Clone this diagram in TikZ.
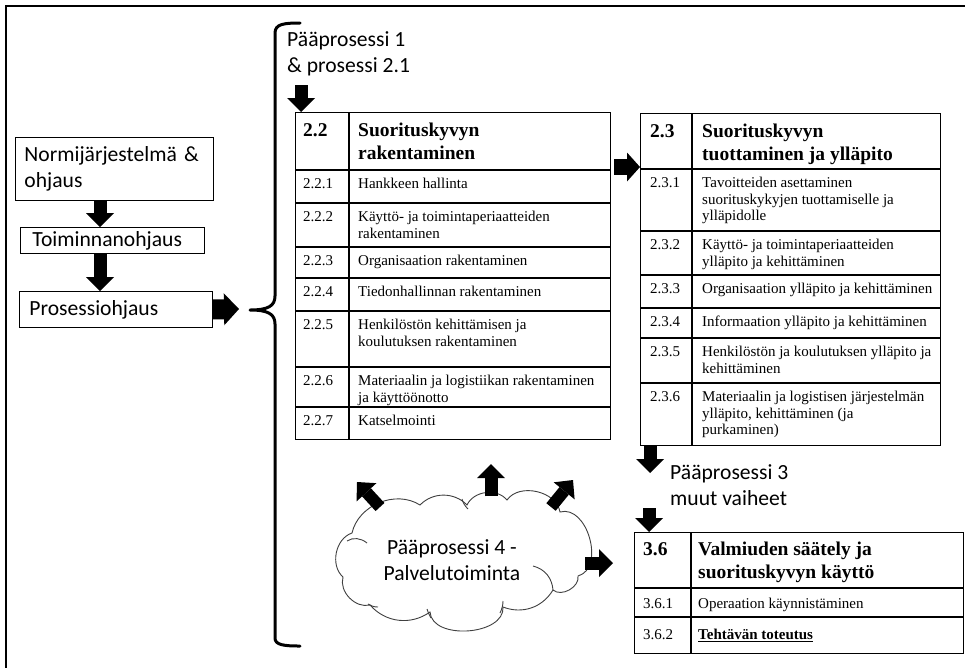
\documentclass[tikz,border=0pt]{standalone}
\usepackage{fontspec}
\setmainfont{Liberation Serif}
\newfontfamily\calib{Carlito}
\usetikzlibrary{arrows.meta,calc}

% table cell texts: number column and text column of one row
\newcommand\trow[6]{%
  \node[bodytxt] (#1n) at (#2,#4) {\strut #5};
  \node[bodytxt] (#1t) at (#3,#4) {\strut #6};}
\newcommand\thead[6]{%
  \node[headtxt] (#1n) at (#2,#4) {\strut #5};
  \node[headtxt] (#1t) at (#3,#4) {\strut #6};}

\begin{document}
\begin{tikzpicture}[x=1pt,y=-1pt,
  flowbox/.style={draw=black, line width=0.9pt, anchor=north west, inner ysep=0pt,
    align=left, font=\calib\fontsize{21.6}{26}\selectfont},
  sanstxt/.style={inner sep=0pt, font=\calib\fontsize{21.6}{26}\selectfont},
  tframe/.style={draw=black, line width=1.4pt, anchor=north west, inner sep=0pt},
  tline/.style={draw=black, line width=1.4pt},
  bodytxt/.style={anchor=north west, inner sep=0pt, align=left,
    font=\fontsize{15}{16.5}\selectfont},
  headtxt/.style={anchor=north west, inner sep=0pt, align=left,
    font=\bfseries\fontsize{19.5}{23}\selectfont},
  blk/.style={line width=13pt, -{Triangle[length=14pt,width=28pt,line width=0pt]}},
  bracepath/.style={line width=3pt, line cap=round, line join=round},
  cloudline/.style={draw=black!75, line width=0.9pt},
  puffline/.style={draw=black!75, line width=0.9pt}
]
\useasboundingbox (0,0) rectangle (965,667);
\fill[white] (0,0) rectangle (965,667);

% outer frame
\draw[line width=2.2pt] (972,6) -- (6,6) -- (6,674);

% control hierarchy on the left
\node[flowbox, inner xsep=9pt, text width=180pt, minimum height=63pt] (nb1) at (15,137)
  {Normijärjestelmä \&\\ohjaus};
\node[flowbox, inner xsep=12pt, text width=160pt, minimum height=26pt] (nb2) at (20,227)
  {Toiminnanohjaus};
\node[flowbox, inner xsep=10pt, text width=173pt, minimum height=36pt] (nb3) at (19,291)
  {Prosessiohjaus};

% curly brace
\coordinate (bt) at (250,310);
\draw[bracepath] (300,23) .. controls (284,23) and (275,24) .. (275,33)
  -- (275,296) .. controls (275,306) and (268,310) .. (bt)
  .. controls (268,310) and (275,314) .. (275,324)
  -- (275,638) .. controls (275,645) and (284,646) .. (300,646);

% labels
\node[sanstxt, anchor=north west, align=left] (lbl1) at (287,28.5)
  {\strut Pääprosessi 1\\\& prosessi 2.1};
\node[sanstxt, anchor=north west, align=left] (lbl3) at (670,461)
  {\strut Pääprosessi 3\\muut vaiheet};

% table 2.2
\node[tframe, minimum width=315pt, minimum height=327pt] (t22) at (295,112) {};
\draw[tline] (349,112) -- (349,439);
\foreach \yy in {170,203,247,278,311,367,407}
  \draw[tline] (295,\yy) -- (610,\yy);
\thead{h22}{303}{358}{112+8}{2.2}{Suorituskyvyn\\rakentaminen}
\trow{r221}{303}{358}{170+7}{2.2.1}{Hankkeen hallinta}
\trow{r222}{303}{358}{203+7}{2.2.2}{Käyttö- ja toimintaperiaatteiden\\rakentaminen}
\trow{r223}{303}{358}{247+7}{2.2.3}{Organisaation rakentaminen}
\trow{r224}{303}{358}{278+7}{2.2.4}{Tiedonhallinnan rakentaminen}
\trow{r225}{303}{358}{311+7}{2.2.5}{Henkilöstön kehittämisen ja\\koulutuksen rakentaminen}
\trow{r226}{303}{358}{367+7}{2.2.6}{Materiaalin ja logistiikan rakentaminen\\ja käyttöönotto}
\trow{r227}{303}{358}{407+7}{2.2.7}{Katselmointi}

% table 2.3
\node[tframe, minimum width=300pt, minimum height=332pt] (t23) at (640,113) {};
\draw[tline] (692,113) -- (692,445);
\foreach \yy in {169,231,275,308,338,383}
  \draw[tline] (640,\yy) -- (940,\yy);
\thead{h23}{650}{702}{113+8}{2.3}{Suorituskyvyn\\tuottaminen ja ylläpito}
\trow{r231}{650}{702}{169+7}{2.3.1}{Tavoitteiden asettaminen\\suorituskykyjen tuottamiselle ja\\ylläpidolle}
\trow{r232}{650}{702}{231+7}{2.3.2}{Käyttö- ja toimintaperiaatteiden\\ylläpito ja kehittäminen}
\trow{r233}{650}{702}{275+7}{2.3.3}{Organisaation ylläpito ja kehittäminen}
\trow{r234}{650}{702}{308+7}{2.3.4}{Informaation ylläpito ja kehittäminen}
\trow{r235}{650}{702}{338+7}{2.3.5}{Henkilöstön ja koulutuksen ylläpito ja\\kehittäminen}
\trow{r236}{650}{702}{383+7}{2.3.6}{Materiaalin ja logistisen järjestelmän\\ylläpito, kehittäminen (ja\\purkaminen)}

% table 3.6
\node[tframe, minimum width=329pt, minimum height=121pt] (t36) at (634,532) {};
\draw[tline] (691,532) -- (691,653);
\foreach \yy in {588,617}
  \draw[tline] (634,\yy) -- (963,\yy);
\thead{h36}{643}{698}{532+7}{3.6}{Valmiuden säätely ja\\suorituskyvyn käyttö}
\trow{r361}{643}{698}{588+8.5}{3.6.1}{Operaation käynnistäminen}
\trow{r362}{643}{698}{617+11}{3.6.2}{\textbf{\underline{Tehtävän toteutus}}}

% service cloud: puffs between the valley points, then the inner arcs
\draw[cloudline, fill=white] (352,533)
  to[bend left=55] (420,505) to[bend left=46] (467,505)
  to[bend left=58] (507,500) to[bend left=68] (560,512)
  to[bend left=90, looseness=1.1] (578,576) to[bend left=70] (553,590)
  to[bend left=40] (503,607) to[bend left=90] (430,612)
  to[bend left=42] (370,605) to[bend left=60] (343,577)
  to[bend left=60] (352,533) -- cycle;
\draw[puffline] (347,541) .. controls (353,537) and (361,538) .. (367,543);
\draw[puffline] (462,499) .. controls (463,503) and (465,506) .. (468,509);
\draw[puffline] (533,566) .. controls (545,569) and (552,578) .. (553,590);
\draw[puffline] (368,604) .. controls (371,606) and (374,607) .. (378,607);
\draw[puffline] (427,609) .. controls (428,612) and (429,615) .. (431,618);
\draw[puffline] (503,601) .. controls (503,605) and (502,609) .. (500,613);
\node[minimum width=252pt, minimum height=139pt, inner sep=0pt] (cl) at (461,562) {};
\node[sanstxt, align=center] (cltx) at (452,560) {Pääprosessi 4 -\\Palvelutoiminta};

% block arrows
\coordinate (ax) at (100,0);
\draw[blk] (nb1.south -| ax) -- (nb2.north -| ax);
\draw[blk] (nb2.south -| ax) -- (nb3.north -| ax);
\coordinate (bta) at (239,309);
\draw[line width=20pt, -{Triangle[length=15pt,width=32pt,line width=0pt]}] (nb3.east) -- (bta);

\coordinate (p1s) at (301,85);
\draw[blk] (p1s) -- (t22.north -| p1s);

\coordinate (ry) at (0,167);
\draw[line width=16pt, -{Triangle[length=13pt,width=29pt,line width=0pt]}]
  ($(t22.east |- ry)+(3,0)$) -- (t23.west |- ry);

\coordinate (p3e) at (650,473);
\draw[blk] (t23.south -| p3e) -- (p3e);
\coordinate (p3s) at (649,508);
\draw[blk] (p3s) -- (t36.north -| p3s);

\coordinate (ce) at (613,563);
\draw[blk] ($(cl.east |- ce)+(-2,0)$) -- (ce);
\coordinate (ctop) at (491,464);
\draw[blk] ($(cl.north -| ctop)+(0,4)$) -- (ctop);
\coordinate (cs1) at (380,507);
\coordinate (cul) at (357,482);
\draw[line width=12pt, -{Triangle[length=14pt,width=27pt,line width=0pt]}] (cs1) -- (cul);
\coordinate (cs2) at (551,507);
\coordinate (cur) at (573,480);
\draw[line width=12pt, -{Triangle[length=14pt,width=27pt,line width=0pt]}] (cs2) -- (cur);
\end{tikzpicture}
\end{document}
